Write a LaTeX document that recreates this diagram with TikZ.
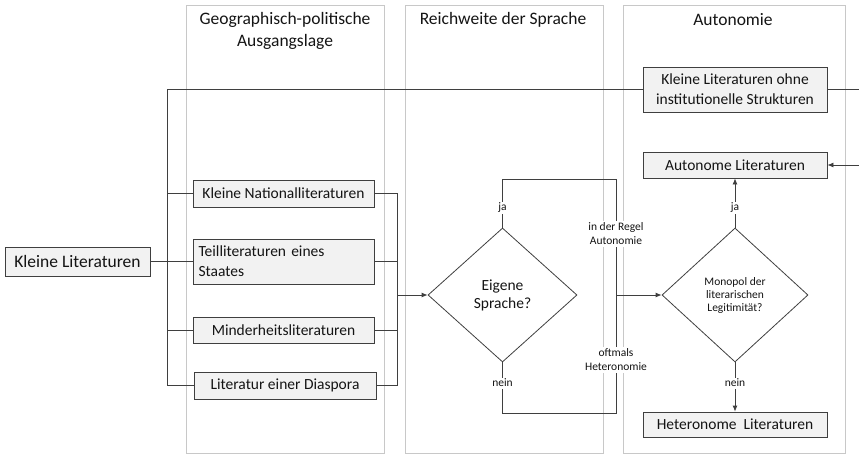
\documentclass[tikz,border=0pt]{standalone}
\usepackage{fontspec}
\setmainfont{Carlito}
\usetikzlibrary{shapes.geometric,arrows.meta}
\definecolor{lineC}{HTML}{3F3F3F}
\definecolor{colC}{HTML}{C8C8C8}
\definecolor{fillC}{HTML}{F2F2F2}
\definecolor{txtC}{HTML}{141414}
\begin{document}
\begin{tikzpicture}[x=1pt,y=-1pt,
  colbox/.style={draw=colC,line width=0.9pt,inner sep=0pt},
  title/.style={align=center,text=txtC,font=\fontsize{17.5}{22}\selectfont,inner sep=0pt},
  litbox/.style={draw=lineC,fill=fillC,line width=0.8pt,text=txtC,font=\fontsize{15.5}{20}\selectfont,inner sep=0pt,align=center},
  dec/.style={draw=lineC,line width=0.8pt,shape=diamond,inner sep=0pt,align=center,text=txtC},
  conn/.style={draw=lineC,line width=0.8pt},
  arr/.style={conn,-{Latex[length=6pt,width=5pt]}},
  lbl/.style={fill=white,inner sep=1.5pt,text=txtC,align=center,font=\fontsize{11.5}{14}\selectfont}]
\useasboundingbox (0,0) rectangle (859,455);
% columns
\node[colbox,minimum width=198pt,minimum height=448pt] (c1) at (285,229) {};
\node[colbox,minimum width=198pt,minimum height=448pt] (c2) at (504,229) {};
\node[colbox,minimum width=222pt,minimum height=448pt] (c3) at (734,229) {};
\node[title] (t1) at (285,30.5) {Geographisch-politische\\Ausgangslage};
\node[title] (t2) at (503,20) {Reichweite der Sprache};
\node[title] (t3) at (733,20) {Autonomie};
% boxes
\node[litbox,font=\fontsize{17.5}{21}\selectfont,minimum width=145pt,minimum height=29pt] (kl) at (77.5,261.5) {Kleine Literaturen};
\node[litbox,minimum width=181pt,minimum height=27pt] (kn) at (283.5,193.5) {Kleine Nationalliteraturen};
\node[litbox,minimum width=181pt,minimum height=45pt,text width=170pt,align=left] (tl) at (283.5,261.5) {Teilliteraturen eines\\Staates};
\node[litbox,minimum width=181pt,minimum height=26pt] (mh) at (283.5,330) {Minderheitsliteraturen};
\node[litbox,minimum width=182pt,minimum height=27pt] (da) at (285,385.5) {Literatur einer Diaspora};
\node[litbox,minimum width=184pt,minimum height=45pt] (ko) at (735,89.5) {Kleine Literaturen ohne\\institutionelle Strukturen};
\node[litbox,minimum width=184pt,minimum height=26pt] (al) at (735,165) {Autonome Literaturen};
\node[litbox,minimum width=184pt,minimum height=25pt] (hl) at (735,424.5) {Heteronome\ \ Literaturen};
% diamonds
\node[dec,minimum width=149pt,minimum height=134pt,font=\fontsize{15.5}{18}\selectfont] (d1) at (502.5,295) {Eigene\\Sprache?};
\node[dec,minimum width=146pt,minimum height=134pt,font=\fontsize{11.5}{13}\selectfont] (d2) at (735,295) {Monopol der\\literarischen\\Legitimität?};
% coordinates
\coordinate (lt) at (167,89.5);
\coordinate (rc) at (397,193.5);
\coordinate (lp) at (616,179);
\coordinate (lb) at (616,413);
\coordinate (lm) at (616,295);
\coordinate (e1) at (859,89.5);
\coordinate (e2) at (859,165);
% left trunk
\draw[conn] (ko.west) -- (lt) -- (lt |- da.west) -- (da.west);
\draw[conn] (kn.west) -- (kn.west -| lt);
\draw[conn] (mh.west) -- (mh.west -| lt);
\draw[conn] (kl.east) -- (tl.west);
\draw[conn] (ko.east) -- (e1);
\draw[arr] (e2) -- (al.east);
% right collector
\draw[conn] (kn.east) -- (rc) -- (rc |- da.east) -- (da.east);
\draw[conn] (tl.east) -- (tl.east -| rc);
\draw[conn] (mh.east) -- (mh.east -| rc);
\draw[arr] (d1.west -| rc) -- (d1.west);
% decision loop
\draw[conn] (d1.north) |- (lp) -- (lb) -| (d1.south);
\draw[arr] (lm) -- (d2.west);
\draw[arr] (d2.north) -- (al.south);
\draw[arr] (d2.south) -- (hl.north);
% labels
\node[lbl] (ja1) at (502.5,208) {ja};
\node[lbl] (ne1) at (502.5,383) {nein};
\node[lbl] (ja2) at (735,208) {ja};
\node[lbl] (ne2) at (735,383) {nein};
\node[lbl,inner xsep=3pt] (aut) at (616,234) {in der Regel\\Autonomie};
\node[lbl,inner xsep=3pt] (het) at (616,360) {oftmals\\Heteronomie};
\end{tikzpicture}
\end{document}
